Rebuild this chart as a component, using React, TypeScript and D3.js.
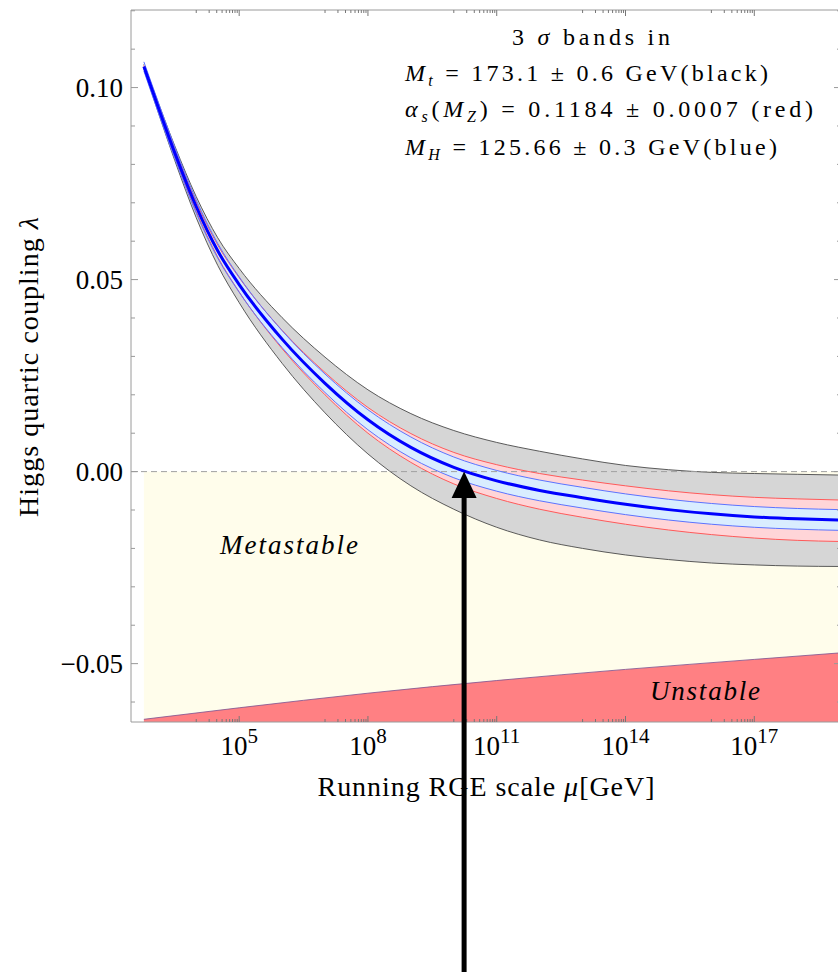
import React from "react";
import * as d3 from "d3";

// ---- data ----
const logMu = [2.78, 3, 3.5, 4, 4.5, 5, 6, 7, 8, 9, 10, 11, 12, 13, 14, 15, 16, 17, 18, 19];
const lambdaCentral = [0.1055, 0.0985, 0.083, 0.069, 0.0575, 0.0487, 0.0345, 0.023, 0.0135, 0.0063, 0.0011, -0.0024, -0.0049, -0.0068, -0.0085, -0.0099, -0.011, -0.0118, -0.0123, -0.0126];
const topMassUpper = [0.1061, 0.0995, 0.0848, 0.0716, 0.0609, 0.0529, 0.0401, 0.0298, 0.0213, 0.0151, 0.0107, 0.0076, 0.0053, 0.0033, 0.0016, 0.0005, -0.0002, -0.0005, -0.0007, -0.0009];
const topMassLower = [0.1049, 0.0974, 0.081, 0.0661, 0.0537, 0.044, 0.0282, 0.0153, 0.0046, -0.0037, -0.0098, -0.0145, -0.0178, -0.02, -0.0217, -0.0229, -0.0238, -0.0243, -0.0246, -0.0247];
const alphaSUpper = [0.1058, 0.099, 0.0839, 0.0702, 0.059, 0.0505, 0.0368, 0.0258, 0.0167, 0.0099, 0.005, 0.0018, -0.0005, -0.0022, -0.0037, -0.005, -0.006, -0.0067, -0.0071, -0.0074];
const alphaSLower = [0.1052, 0.098, 0.0821, 0.0677, 0.0559, 0.0468, 0.032, 0.02, 0.01, 0.0024, -0.0032, -0.007, -0.0098, -0.0119, -0.0137, -0.0152, -0.0164, -0.0173, -0.0179, -0.0182];
const higgsMassUpper = [0.1067, 0.0998, 0.0845, 0.0707, 0.0594, 0.0507, 0.0367, 0.0254, 0.0161, 0.009, 0.0038, 0.0003, -0.0022, -0.0041, -0.0058, -0.0072, -0.0083, -0.0091, -0.0096, -0.0099];
const higgsMassLower = [0.1043, 0.0972, 0.0815, 0.0673, 0.0556, 0.0467, 0.0323, 0.0206, 0.0109, 0.0036, -0.0016, -0.0051, -0.0076, -0.0095, -0.0112, -0.0126, -0.0137, -0.0145, -0.015, -0.0153];

const unstableLogMu = [2.78, 5, 8, 11, 14, 17, 19];
const unstableLambda = [-0.0645, -0.0615, -0.0577, -0.0544, -0.0515, -0.0489, -0.0472];

const crossingLogMu = 10.24;

const xMajorExponents = [5, 8, 11, 14, 17];
const xMinorDecades = [2, 5, 8, 11, 14, 17, 20];
const minorFactors = [1, 2, 3, 4, 5, 6, 7, 8, 9];
const yMajorTicks = [-0.05, 0, 0.05, 0.1];
const yMajorLabels = ["\u22120.05", "0.00", "0.05", "0.10"];
const yMinorTicks = [-0.06, -0.04, -0.03, -0.02, -0.01, 0.01, 0.02, 0.03, 0.04, 0.06, 0.07, 0.08, 0.09, 0.11, 0.12];

const FONT = "'Liberation Serif', 'Times New Roman', serif";
const W = 838;
const H = 972;
const P = { left: 131, right: 841, top: 10, bottom: 722 };

export default function App() {
  const x = d3.scaleLog().domain([Math.pow(10, 2.48), Math.pow(10, 19.02)]).range([P.left, P.right]);
  const y = d3.scaleLinear().domain([-0.0652, 0.1202]).range([P.bottom, P.top]);
  const X = (L: number) => x(Math.pow(10, L));
  const idx = logMu.map((_, i) => i);

  const band = (up: number[], lo: number[]) =>
    d3.area<number>().x((i) => X(logMu[i])).y0((i) => y(lo[i])).y1((i) => y(up[i])).curve(d3.curveMonotoneX)(idx) || "";
  const line = (v: number[]) =>
    d3.line<number>().x((i) => X(logMu[i])).y((i) => y(v[i])).curve(d3.curveMonotoneX)(idx) || "";

  const uIdx = unstableLogMu.map((_, i) => i);
  const unstableArea =
    d3.area<number>().x((i) => X(unstableLogMu[i])).y0(P.bottom).y1((i) => y(unstableLambda[i])).curve(d3.curveMonotoneX)(uIdx) || "";
  const unstableLine =
    d3.line<number>().x((i) => X(unstableLogMu[i])).y((i) => y(unstableLambda[i])).curve(d3.curveMonotoneX)(uIdx) || "";

  const xStart = X(logMu[0]);
  const xEnd = X(logMu[logMu.length - 1]);

  const minorX: number[] = [];
  xMinorDecades.forEach((e) => {
    minorFactors.forEach((f) => {
      const px = x(f * Math.pow(10, e - 1));
      if (px > P.left + 1 && px < P.right - 1) minorX.push(px);
    });
  });
  const majorX = xMajorExponents.map((e) => X(e));

  const tipX = X(crossingLogMu);
  const tipY = y(0);

  return (
    <svg width={W} height={H} style={{ position: "absolute", left: 0, top: 0, background: "#fff" }} fontFamily={FONT}>
      <defs>
        <clipPath id="plotClip">
          <rect x={P.left} y={P.top} width={P.right - P.left} height={P.bottom - P.top} />
        </clipPath>
      </defs>
      <g clipPath="url(#plotClip)">
        {/* metastable region */}
        <rect x={xStart} y={y(0)} width={xEnd - xStart + 5} height={P.bottom - y(0)} fill="#fffdeb" />
        {/* unstable region */}
        <path d={unstableArea} fill="#ff8083" />
        <path d={unstableLine} fill="none" stroke="#7a4f8f" strokeWidth={0.8} />
        {/* top mass band */}
        <path d={band(topMassUpper, topMassLower)} fill="#d6d6d6" />
        <path d={line(topMassUpper)} fill="none" stroke="#4a4a4a" strokeWidth={0.9} />
        <path d={line(topMassLower)} fill="none" stroke="#4a4a4a" strokeWidth={0.9} />
        {/* alpha_s band */}
        <path d={band(alphaSUpper, alphaSLower)} fill="#ffd5d8" />
        {/* Higgs mass band */}
        <path d={band(higgsMassUpper, higgsMassLower)} fill="#d9edff" />
        {/* zero line */}
        <line x1={P.left} x2={P.right} y1={y(0)} y2={y(0)} stroke="#a0a0a0" strokeWidth={1} strokeDasharray="6,4" />
        <path d={line(alphaSUpper)} fill="none" stroke="#ff5a5a" strokeWidth={1} />
        <path d={line(alphaSLower)} fill="none" stroke="#ff5a5a" strokeWidth={1} />
        <path d={line(higgsMassUpper)} fill="none" stroke="#5c73ff" strokeWidth={1} />
        <path d={line(higgsMassLower)} fill="none" stroke="#5c73ff" strokeWidth={1} />
        <path d={line(lambdaCentral)} fill="none" stroke="#0000ff" strokeWidth={3} />

        <text x={289} y={554} textAnchor="middle" fontStyle="italic" fontSize={27} textLength={138} lengthAdjust="spacing">
          Metastable
        </text>
        <text x={705} y={700} textAnchor="middle" fontStyle="italic" fontSize={27} textLength={110} lengthAdjust="spacing">
          Unstable
        </text>
      </g>

      {/* frame */}
      <g stroke="#9a9a9a" strokeWidth={1} fill="none">
        <line x1={P.left} x2={P.right} y1={P.top} y2={P.top} />
        <line x1={P.left} x2={P.right} y1={P.bottom} y2={P.bottom} />
        <line x1={P.left} x2={P.left} y1={P.top} y2={P.bottom} />
        <line x1={P.right} x2={P.right} y1={P.top} y2={P.bottom} />
      </g>
      {/* x ticks */}
      <g stroke="#777" strokeWidth={1}>
        {majorX.map((px, i) => (
          <g key={"mx" + i}>
            <line x1={px} x2={px} y1={P.bottom} y2={P.bottom - 6} />
            <line x1={px} x2={px} y1={P.top} y2={P.top + 6} />
          </g>
        ))}
        {minorX.map((px, i) => (
          <g key={"nx" + i}>
            <line x1={px} x2={px} y1={P.bottom} y2={P.bottom - 3} />
            <line x1={px} x2={px} y1={P.top} y2={P.top + 3} />
          </g>
        ))}
      </g>
      {/* y ticks */}
      <g stroke="#999" strokeWidth={1}>
        {yMajorTicks.map((v, i) => (
          <g key={"my" + i}>
            <line x1={P.left} x2={P.left + 7} y1={y(v)} y2={y(v)} />
            <line x1={P.right} x2={P.right - 7} y1={y(v)} y2={y(v)} />
          </g>
        ))}
        {yMinorTicks.map((v, i) => (
          <g key={"ny" + i}>
            <line x1={P.left} x2={P.left + 4} y1={y(v)} y2={y(v)} />
            <line x1={P.right} x2={P.right - 4} y1={y(v)} y2={y(v)} />
          </g>
        ))}
      </g>
      {/* y tick labels */}
      {yMajorTicks.map((v, i) => (
        <text key={"ly" + i} x={P.left - 8} y={y(v) + 9} textAnchor="end" fontSize={27} fill="#000">
          {yMajorLabels[i]}
        </text>
      ))}
      {/* x tick labels */}
      {xMajorExponents.map((e, i) => (
        <text key={"lx" + i} x={majorX[i]} y={755} textAnchor="middle" fontSize={27} fill="#000">
          <tspan>10</tspan>
          <tspan dy={-12} fontSize={21}>{e}</tspan>
        </text>
      ))}

      {/* axis titles */}
      <text x={486} y={796} textAnchor="middle" fontSize={28} textLength={337} lengthAdjust="spacing">
        Running RGE scale <tspan fontStyle="italic">μ</tspan>[GeV]
      </text>
      <text
        transform={`translate(38, 367) rotate(-90)`}
        textAnchor="middle"
        fontSize={28}
        textLength={300}
        lengthAdjust="spacing"
      >
        Higgs quartic coupling <tspan fontStyle="italic">λ</tspan>
      </text>

      {/* legend */}
      <g fontSize={24} fill="#000">
        <text x={591} y={45} textAnchor="middle" textLength={158} lengthAdjust="spacing">
          3 <tspan fontStyle="italic">σ</tspan> bands in
        </text>
        <text x={405} y={81} textLength={363} lengthAdjust="spacing">
          <tspan fontStyle="italic">M</tspan>
          <tspan fontStyle="italic" fontSize={16} dy={5}>t</tspan>
          <tspan dy={-5}> = 173.1 ± 0.6 GeV(black)</tspan>
        </text>
        <text x={405} y={117} textLength={408} lengthAdjust="spacing">
          <tspan fontStyle="italic">α</tspan>
          <tspan fontStyle="italic" fontSize={16} dy={5}>s</tspan>
          <tspan dy={-5}>(</tspan>
          <tspan fontStyle="italic">M</tspan>
          <tspan fontStyle="italic" fontSize={16} dy={5}>Z</tspan>
          <tspan dy={-5}>) = 0.1184 ± 0.0007 (red)</tspan>
        </text>
        <text x={405} y={155} textLength={372} lengthAdjust="spacing">
          <tspan fontStyle="italic">M</tspan>
          <tspan fontStyle="italic" fontSize={16} dy={5}>H</tspan>
          <tspan dy={-5}> = 125.66 ± 0.3 GeV(blue)</tspan>
        </text>
      </g>

      {/* arrow */}
      <line x1={tipX} x2={tipX} y1={H} y2={tipY + 24} stroke="#000" strokeWidth={5} />
      <path d={`M${tipX},${tipY} L${tipX - 12.5},${tipY + 26.5} L${tipX + 12.5},${tipY + 26.5} Z`} fill="#000" />
    </svg>
  );
}
